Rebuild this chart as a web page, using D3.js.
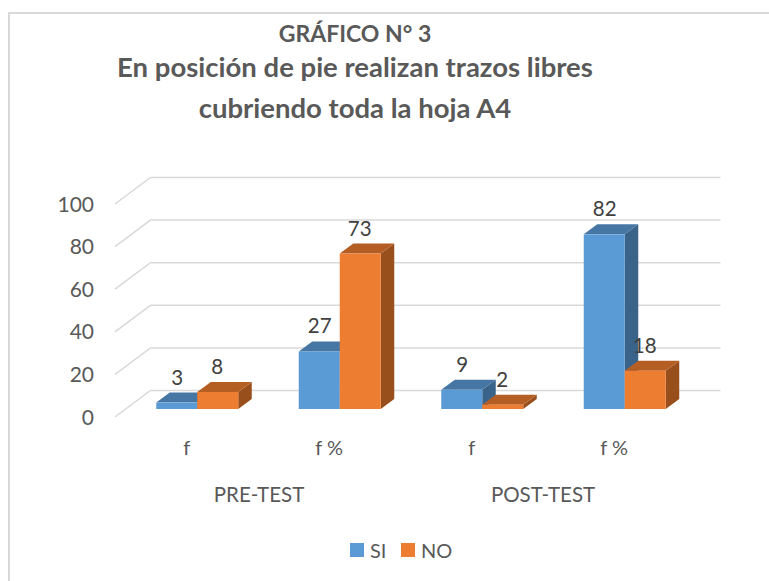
<!DOCTYPE html>
<html>
<head>
<meta charset="utf-8">
<script src="https://cdn.jsdelivr.net/npm/d3@7"></script>
<style>
  html, body { margin: 0; padding: 0; background: #fff; }
  svg { display: block; }
  text { font-family: Lato, "Open Sans", sans-serif; }
</style>
</head>
<body>
<div id="chart"></div>
<script>
const subCategories = ["f", "f %", "f", "f %"];
const groups = ["PRE-TEST", "POST-TEST"];
const seriesNames = ["SI", "NO"];
const siValues = [3, 27, 9, 82];
const noValues = [8, 73, 2, 18];
const yTicks = [0, 20, 40, 60, 80, 100];
const titleLines = [
  "GRÁFICO N° 3",
  "En posición de pie realizan trazos libres",
  "cubriendo toda la hoja A4"
];

const width = 769;
const height = 581;

const colors = {
  SI: { front: "#5b9bd5", top: "#4676a3", side: "#3a6389" },
  NO: { front: "#ed7d31", top: "#b55e23", side: "#984f1b" }
};

// depth of a bar and of the floor, in px
const barDx = 13.5;
const barDy = 10;
const floorFront = { dx: -11, dy: 8 };
const floorBack = { dx: 24.5, dy: -18.5 };

const svg = d3
  .select("#chart")
  .append("svg")
  .attr("width", width)
  .attr("height", height)
  .attr("viewBox", [0, 0, width, height]);

// Frame, only top and left edges are in the picture
svg
  .append("path")
  .attr("d", `M9,${height}V13H${width}`)
  .attr("fill", "none")
  .attr("stroke", "#d9d9d9")
  .attr("stroke-width", 2);

// Title
svg
  .append("g")
  .attr("fill", "#595959")
  .attr("font-weight", 700)
  .attr("text-anchor", "middle")
  .selectAll()
  .data(titleLines)
  .join("text")
  .attr("x", 355)
  .attr("y", (d, i) => [42, 77, 118][i])
  .attr("font-size", (d, i) => [23, 27.5, 27.5][i])
  .text((d) => d);

// Scales
const x = d3.scaleBand().domain(d3.range(4)).range([126, 696]).paddingInner(0).paddingOuter(0);
const barWidth = 41;
const y = d3.scaleLinear().domain([0, 100]).range([409, 196]);

// Gridlines
const grid = svg
  .append("g")
  .attr("fill", "none")
  .attr("stroke", "#d9d9d9")
  .attr("stroke-width", 1.5);
grid
  .selectAll()
  .data(yTicks)
  .join("path")
  .attr("d", (d) => {
    const p = d3.path();
    p.moveTo(x.range()[0] + floorFront.dx, y(d) + floorFront.dy);
    p.lineTo(x.range()[0] + floorBack.dx, y(d) + floorBack.dy);
    p.lineTo(x.range()[1] + floorBack.dx, y(d) + floorBack.dy);
    return p.toString();
  });

// Y axis labels
svg
  .append("g")
  .attr("fill", "#595959")
  .attr("font-size", 21)
  .attr("text-anchor", "end")
  .selectAll()
  .data(yTicks)
  .join("text")
  .attr("x", 94)
  .attr("y", (d) => y(d) + 15.5)
  .text((d) => d);

// Bars, one cuboid per value: side and top first, then front
function drawBar(g, x0, v, c) {
  const yTop = y(v);
  const yBase = y(0);
  const x1 = x0 + barWidth;
  g.append("path")
    .attr("fill", c.side)
    .attr("d", `M${x1},${yBase}L${x1 + barDx},${yBase - barDy}L${x1 + barDx},${yTop - barDy}L${x1},${yTop}Z`);
  g.append("path")
    .attr("fill", c.top)
    .attr("d", `M${x0},${yTop}L${x0 + barDx},${yTop - barDy}L${x1 + barDx},${yTop - barDy}L${x1},${yTop}Z`);
  g.append("rect")
    .attr("x", x0)
    .attr("y", yTop)
    .attr("width", barWidth)
    .attr("height", yBase - yTop)
    .attr("fill", c.front);
}

const bars = svg.append("g");
subCategories.forEach((cat, i) => {
  const cx = x(i) + x.bandwidth() / 2;
  drawBar(bars, cx - barWidth, siValues[i], colors.SI);
  drawBar(bars, cx, noValues[i], colors.NO);
});

// Data labels
const labels = svg
  .append("g")
  .attr("fill", "#404040")
  .attr("font-size", 20.5)
  .attr("text-anchor", "middle");
subCategories.forEach((cat, i) => {
  const cx = x(i) + x.bandwidth() / 2;
  labels
    .append("text")
    .attr("x", cx - 20)
    .attr("y", y(siValues[i]) - 18)
    .text(siValues[i]);
  labels
    .append("text")
    .attr("x", cx + 20)
    .attr("y", y(noValues[i]) - 18)
    .text(noValues[i]);
});

// Category labels
svg
  .append("g")
  .attr("fill", "#595959")
  .attr("font-size", 20)
  .attr("text-anchor", "middle")
  .selectAll()
  .data(subCategories)
  .join("text")
  .attr("x", (d, i) => x(i) + x.bandwidth() / 2 - 10.5)
  .attr("y", 455)
  .text((d) => d);

svg
  .append("g")
  .attr("fill", "#595959")
  .attr("font-size", 20.5)
  .attr("text-anchor", "middle")
  .selectAll()
  .data(groups)
  .join("text")
  .attr("x", (d, i) => [259, 543][i])
  .attr("y", 502)
  .text((d) => d);

// Legend
const legend = svg.append("g").attr("font-size", 20).attr("fill", "#595959");
seriesNames.forEach((name, i) => {
  const lx = [350, 401][i];
  legend
    .append("rect")
    .attr("x", lx)
    .attr("y", 543)
    .attr("width", 14)
    .attr("height", 14)
    .attr("fill", colors[name].front);
  legend
    .append("text")
    .attr("x", lx + 20)
    .attr("y", 558)
    .text(name);
});
</script>
</body>
</html>
